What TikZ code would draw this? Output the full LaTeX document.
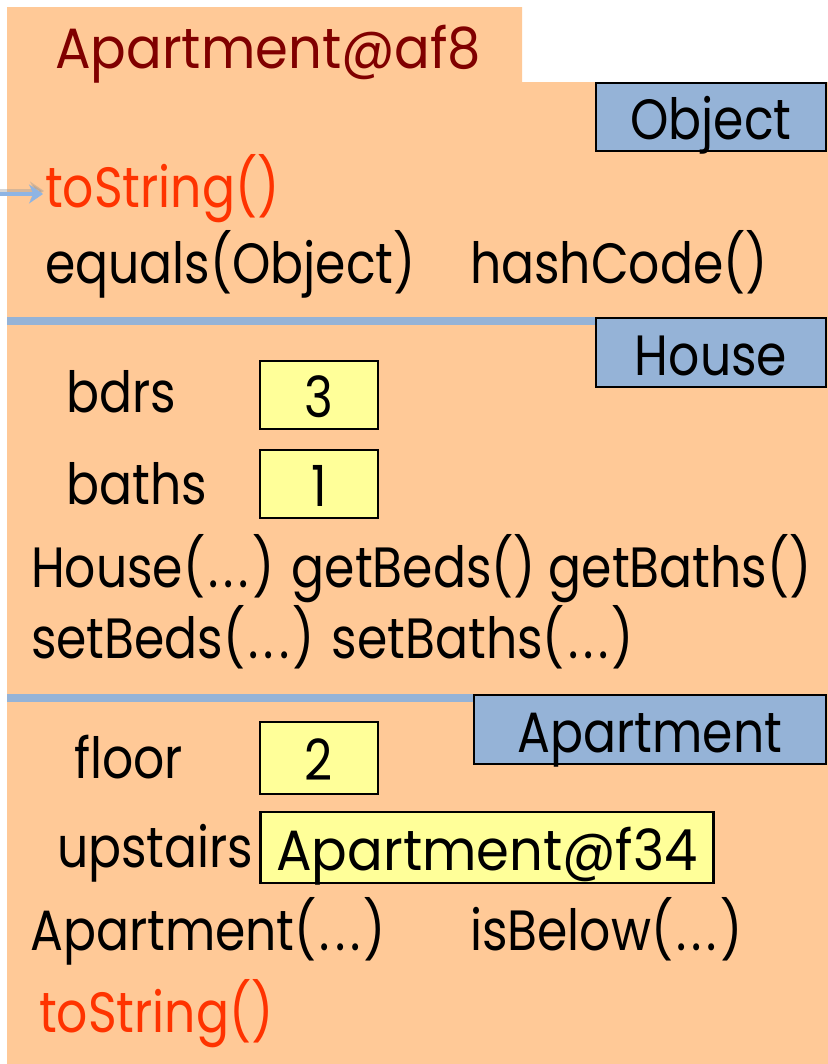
\documentclass[tikz,border=0pt]{standalone}
\usepackage{fontspec}
\setmainfont{Poppins}[FakeStretch=0.86]
\newfontfamily\atfont{Poppins}[FakeStretch=0.93]
\usetikzlibrary{arrows.meta}
\definecolor{bgorange}{HTML}{FFC997}
\definecolor{clsblue}{HTML}{95B3D7}
\definecolor{valyellow}{HTML}{FFFF99}
\definecolor{titlered}{HTML}{800000}
\definecolor{methred}{HTML}{FF3300}
\definecolor{arrowblue}{HTML}{8EB4E3}
\newcommand\myell{\kern3bp.\kern5bp.\kern5bp.\kern3bp}
\tikzset{
  txt/.style={anchor=base west, inner sep=0pt, font=\fontsize{57}{60}\selectfont},
  boxbase/.style={draw=black, line width=2.5bp, inner sep=0pt, text height=45bp, text depth=0bp, font=\fontsize{57}{60}\selectfont},
  clsbox/.style={boxbase, fill=clsblue},
  valbox/.style={boxbase, fill=valyellow},
  sepbar/.style={fill=clsblue, draw=none},
}
\begin{document}
\begin{tikzpicture}[x=1bp, y=-1bp]
\useasboundingbox (0,0) rectangle (828,1064);
\fill[white] (0,0) rectangle (828,1064);
\fill[bgorange] (7,7) -- (522,7) -- (522,82) -- (828,82) -- (828,1064) -- (7,1064) -- cycle;
% separators
\fill[sepbar] (7,317) rectangle (597,325);
\fill[sepbar] (7,694) rectangle (475,702);
% title
\node[txt, text=titlered, font=\fontsize{57}{60}\atfont] (title) at (55,68) {Apartment@af8};
% Object part
\node[clsbox, minimum width=230bp, minimum height=68bp] (objcls) at (711,117) {Object};
\node[txt, text=methred] (ts1) at (45,207) {toString()};
\node[txt] (equals) at (45,283) {equals(Object)};
\node[txt] (hash) at (470,283) {hashCode()};
% arrow into toString
\coordinate (arrstart) at (0,194);
\draw[black!40, opacity=0.4, line width=4bp, -{Stealth[length=14bp,width=19bp]}] ([yshift=3bp]arrstart) -- ([xshift=-1bp,yshift=3bp]ts1.west |- arrstart);
\draw[arrowblue, line width=4bp, -{Stealth[length=14bp,width=19bp]}] (arrstart) -- ([xshift=-2bp]ts1.west |- arrstart);
% House part
\node[clsbox, minimum width=230bp, minimum height=69bp] (housecls) at (711,352.5) {House};
\node[txt] (bdrs) at (66,412) {bdrs};
\node[valbox, minimum width=118bp, minimum height=68bp] (bdrsval) at (319,395) {3};
\node[txt] (baths) at (66,504) {baths};
\node[valbox, minimum width=118bp, minimum height=68bp] (bathsval) at (319,484) {1};
\node[txt] (hmeth1) at (31,587) {House(\myell) getBeds() getBaths()};
\node[txt] (hmeth2) at (31,658) {setBeds(\myell) setBaths(\myell)};
% Apartment part
\node[clsbox, minimum width=352bp, minimum height=69bp] (aptcls) at (650,729.5) {Apartment};
\node[txt] (floor) at (74,778) {floor};
\node[valbox, minimum width=118bp, minimum height=72bp] (floorval) at (319,758) {2};
\node[txt] (upst) at (57,867) {upstairs};
\node[valbox, minimum width=453bp, minimum height=71bp, font=\fontsize{57}{60}\atfont] (upval) at (487,847.5) {Apartment@f34};
\node[txt] (aptctor) at (30,950) {Apartment(\myell)};
\node[txt] (isbelow) at (470,950) {isBelow(\myell)};
\node[txt, text=methred] (ts2) at (39,1032) {toString()};
\end{tikzpicture}
\end{document}
